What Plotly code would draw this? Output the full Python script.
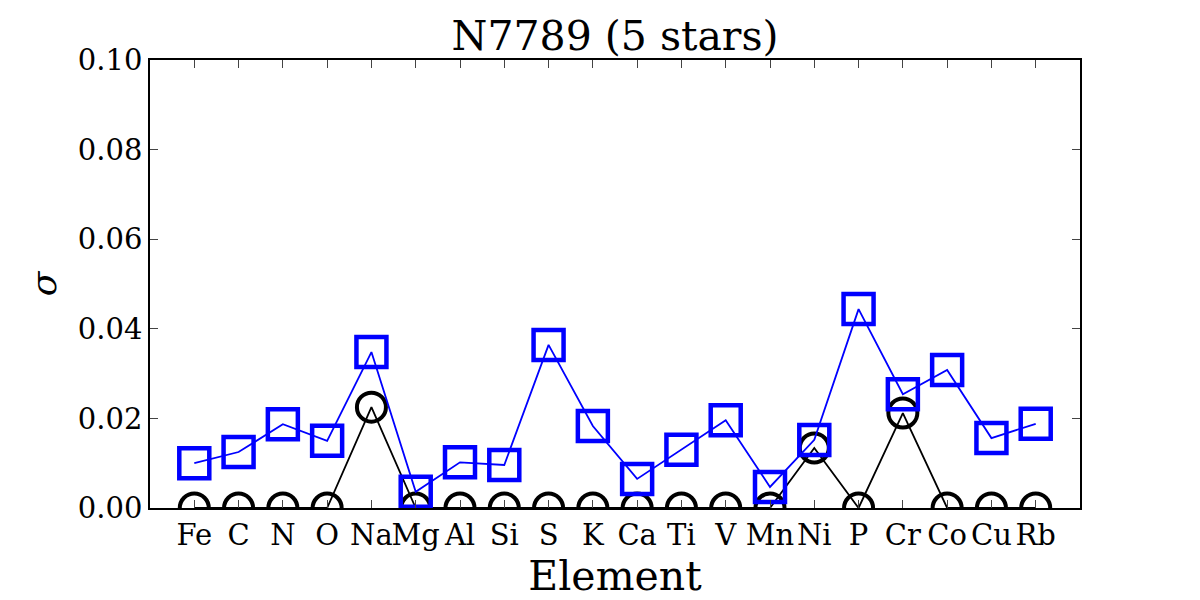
import plotly.graph_objects as go

elements = ["Fe", "C", "N", "O", "Na", "Mg", "Al", "Si", "S", "K", "Ca", "Ti", "V", "Mn", "Ni", "P", "Cr", "Co", "Cu", "Rb"]
sigma_blue = [0.0100, 0.0125, 0.0187, 0.0150, 0.0348, 0.0036, 0.0102, 0.0096, 0.0364, 0.0183,
              0.0065, 0.0130, 0.0196, 0.0047, 0.0152, 0.0444, 0.0254, 0.0308, 0.0156, 0.0188]
sigma_black = [0.0, 0.0, 0.0, 0.0, 0.0225, 0.0, 0.0, 0.0, 0.0, 0.0,
               0.0, 0.0, 0.0, 0.0, 0.0134, 0.0, 0.0212, 0.0, 0.0, 0.0]
yticks = [0, 0.02, 0.04, 0.06, 0.08, 0.1]
ytick_text = ["0.00", "0.02", "0.04", "0.06", "0.08", "0.10"]

x = list(range(len(elements)))
font = "DejaVu Serif"

fig = go.Figure()
fig.add_trace(go.Scatter(
    x=x, y=sigma_black, mode="lines+markers",
    line=dict(color="black", width=1.8),
    marker=dict(symbol="circle-open", size=29, color="black", line=dict(width=4, color="black")),
    showlegend=False))
fig.add_trace(go.Scatter(
    x=x, y=sigma_blue, mode="lines+markers",
    line=dict(color="blue", width=1.8),
    marker=dict(symbol="square-open", size=30, color="blue", line=dict(width=4.5, color="blue")),
    showlegend=False))

fig.update_layout(
    width=1200, height=600,
    margin=dict(l=150, r=120, t=60, b=92),
    paper_bgcolor="white", plot_bgcolor="white",
    font=dict(family=font, color="black"),
    title=dict(text="N7789 (5 stars)", x=0.5, xanchor="center", xref="paper",
               y=(600 - 50) / 600, yanchor="bottom", yref="container",
               font=dict(family=font, size=41, color="black")),
    xaxis=dict(range=[-1, 20], tickmode="array", tickvals=x, ticktext=elements, tickangle=0,
               automargin=False,
               ticks="inside", ticklen=8, tickcolor="#444", mirror="allticks",
               showline=True, linecolor="black", linewidth=1.5, showgrid=False, zeroline=False,
               tickfont=dict(family=font, size=29),
               title=dict(text="Element", font=dict(family=font, size=41), standoff=6)),
    yaxis=dict(range=[0, 0.1], tickmode="array", tickvals=yticks, ticktext=ytick_text,
               automargin=False,
               ticks="inside", ticklen=8, tickcolor="#444", mirror="allticks",
               showline=True, linecolor="black", linewidth=1.5, showgrid=False, zeroline=False,
               tickfont=dict(family=font, size=29),
               title=dict(text="<i>σ</i>", font=dict(family=font, size=36), standoff=10)),
)

fig.write_html("out.html")
